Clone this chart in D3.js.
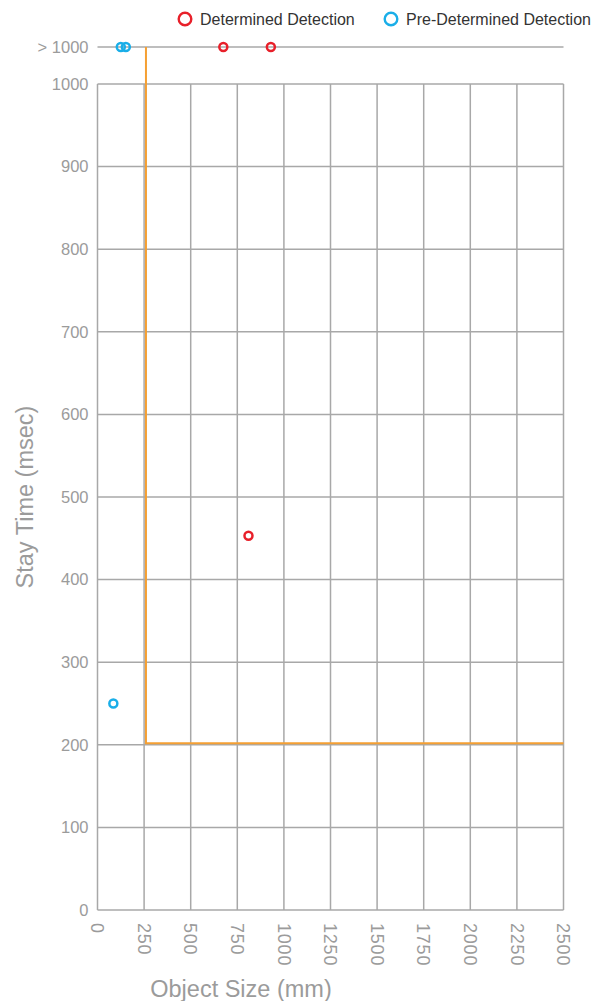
<!DOCTYPE html>
<html>
<head>
<meta charset="utf-8">
<script src="https://cdn.jsdelivr.net/npm/d3@7/dist/d3.min.js"></script>
<style>
  html, body { margin: 0; padding: 0; background: #fff; }
  svg { display: block; font-family: "Liberation Sans", Arial, Helvetica, sans-serif; }
</style>
</head>
<body>
<svg id="chart" width="598" height="1001"></svg>
<script>
// ---- data ----
const seriesNames = ["Determined Detection", "Pre-Determined Detection"];
const seriesColors = ["#e8202a", "#1aaee8"];
// Determined Detection points (size mm, stay time msec; ">1000" = over range)
const determinedX = [675, 930, 810];
const determinedY = [">1000", ">1000", 453];
// Pre-Determined Detection points
const preDeterminedX = [125, 152, 85];
const preDeterminedY = [">1000", ">1000", 250];
// Threshold line (orange)
const thresholdX = [260, 260, 2500];
const thresholdY = [">1000", 202, 202];
// ticks
const xTicks = [0, 250, 500, 750, 1000, 1250, 1500, 1750, 2000, 2250, 2500];
const yTicks = [0, 100, 200, 300, 400, 500, 600, 700, 800, 900, 1000];
const overLabel = "> 1000";

// ---- layout ----
const svg = d3.select("#chart");
const pL = 97.5, pR = 563.5, pT = 84, pB = 910;
const overY = 47;
const gridColor = "#a8a8a8";
const textColor = "#9b9b9b";

const x = d3.scaleLinear().domain([0, 2500]).range([pL, pR]);
const yLin = d3.scaleLinear().domain([0, 1000]).range([pB, pT]);
const y = v => (v === ">1000" ? overY : yLin(v));

const g = svg.append("g");
g.selectAll("line.h").data(yTicks).enter().append("line")
  .attr("x1", pL).attr("x2", pR)
  .attr("y1", d => yLin(d)).attr("y2", d => yLin(d))
  .attr("stroke", gridColor).attr("stroke-width", 1.5);
g.selectAll("line.v").data(xTicks).enter().append("line")
  .attr("x1", d => x(d)).attr("x2", d => x(d))
  .attr("y1", pT).attr("y2", pB)
  .attr("stroke", gridColor).attr("stroke-width", 1.5);
g.append("line")
  .attr("x1", pL).attr("x2", pR)
  .attr("y1", overY).attr("y2", overY)
  .attr("stroke", gridColor).attr("stroke-width", 1.5);

g.selectAll("text.yt").data(yTicks).enter().append("text")
  .attr("x", pL - 9).attr("y", d => yLin(d))
  .attr("text-anchor", "end").attr("dy", "0.35em")
  .attr("font-size", 16.5).attr("fill", textColor)
  .text(d => d);
g.append("text")
  .attr("x", pL - 9).attr("y", overY)
  .attr("text-anchor", "end").attr("dy", "0.35em")
  .attr("font-size", 16.5).attr("fill", textColor)
  .text(overLabel);

g.selectAll("text.xt").data(xTicks).enter().append("text")
  .attr("transform", d => `translate(${x(d)},${pB + 13}) rotate(90)`)
  .attr("text-anchor", "start").attr("dy", "0.35em")
  .attr("font-size", 18).attr("letter-spacing", "0.8px").attr("fill", textColor)
  .text(d => d);

svg.append("text")
  .attr("x", 241).attr("y", 997)
  .attr("text-anchor", "middle")
  .attr("font-size", 23.5).attr("fill", textColor)
  .text("Object Size (mm)");
svg.append("text")
  .attr("transform", `translate(33,${(pT + pB) / 2}) rotate(-90)`)
  .attr("text-anchor", "middle")
  .attr("font-size", 23.5).attr("fill", textColor)
  .text("Stay Time (msec)");

const line = d3.line().x(d => x(d[0])).y(d => y(d[1]));
svg.append("path")
  .datum(thresholdX.map((v, i) => [v, thresholdY[i]]))
  .attr("d", line)
  .attr("fill", "none").attr("stroke", "#f5a033").attr("stroke-width", 2);

const series = [
  { xs: determinedX, ys: determinedY, color: seriesColors[0] },
  { xs: preDeterminedX, ys: preDeterminedY, color: seriesColors[1] }
];
series.forEach(s => {
  svg.append("g").selectAll("circle")
    .data(s.xs.map((v, i) => [v, s.ys[i]]))
    .enter().append("circle")
    .attr("cx", d => x(d[0])).attr("cy", d => y(d[1]))
    .attr("r", 4).attr("fill", "none")
    .attr("stroke", s.color).attr("stroke-width", 2.5);
});

const legendX = [185, 391];
const lg = svg.append("g");
seriesNames.forEach((name, i) => {
  lg.append("circle")
    .attr("cx", legendX[i]).attr("cy", 19).attr("r", 6.3)
    .attr("fill", "none").attr("stroke", seriesColors[i]).attr("stroke-width", 2.4);
  lg.append("text")
    .attr("x", legendX[i] + 15).attr("y", 19).attr("dy", "0.35em")
    .attr("font-size", 16).attr("fill", "#333")
    .text(name);
});
</script>
</body>
</html>
